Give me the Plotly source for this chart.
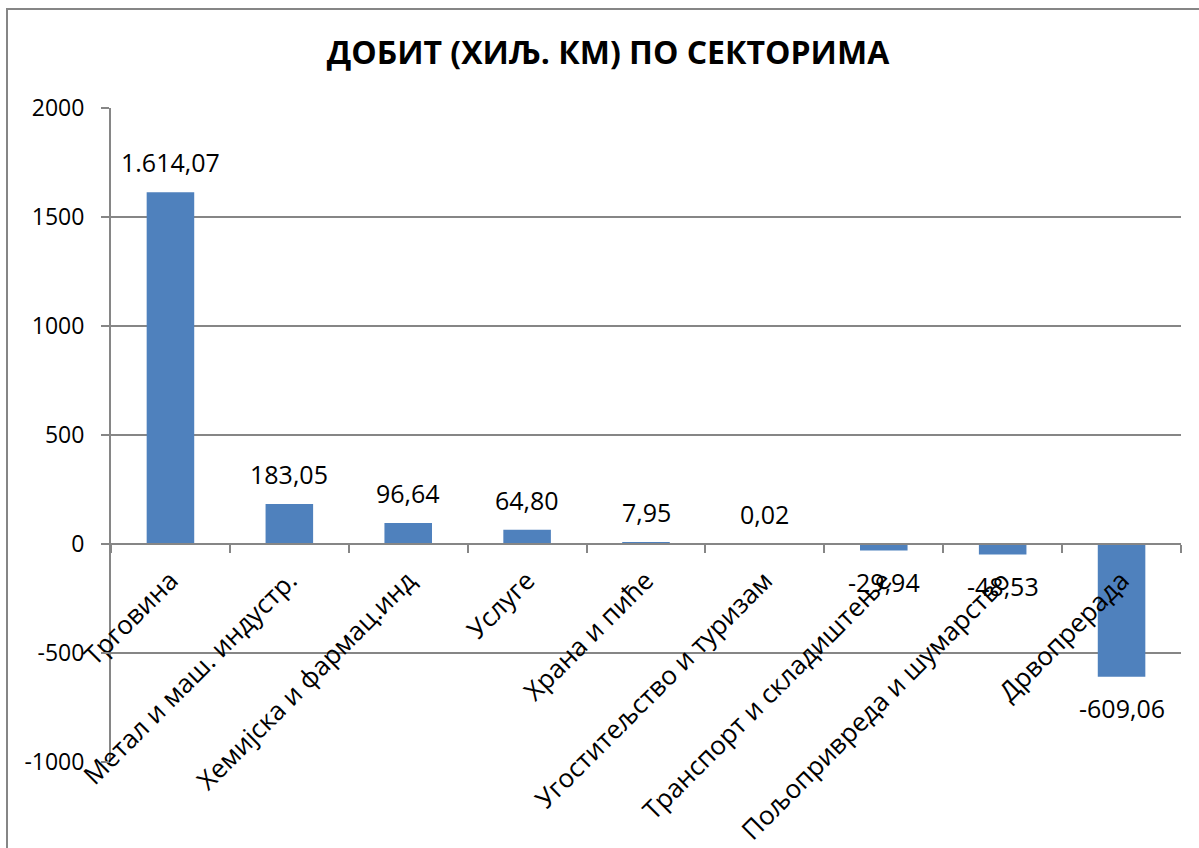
import plotly.graph_objects as go

categories = ["Трговина", "Метал и маш. индустр.", "Хемијска и фармац.инд", "Услуге",
              "Храна и пиће", "Угоститељство и туризам", "Транспорт и складиштење",
              "Пољопривреда и шумарство", "Дрвопрерада"]
values = [1614.07, 183.05, 96.64, 64.80, 7.95, 0.02, -29.94, -48.53, -609.06]
y_ticks = [-1000, -500, 0, 500, 1000, 1500, 2000]
title_text = "ДОБИТ (ХИЉ. КМ) ПО СЕКТОРИМА"

W, H = 1199, 848
L, R, T, B = 111, 18, 108, 86
pw, ph = W - L - R, H - T - B

def fmt(v):
    s = f"{v:,.2f}"
    return s.replace(",", "X").replace(".", ",").replace("X", ".")

FONT = "Open Sans"
GRAY = "#868686"

fig = go.Figure()
fig.add_trace(go.Bar(x=categories, y=values, marker=dict(color="#4F81BD", line=dict(width=0)),
                     hoverinfo="skip"))

annotations = []
for c, v in zip(categories, values):
    annotations.append(dict(x=c, y=v, xref="x", yref="y", text=fmt(v), showarrow=False,
                            yanchor="middle", xanchor="center", yshift=30 if v >= 0 else -31,
                            font=dict(family=FONT, size=25, color="black")))

def px_x(p):
    return (p - L) / pw

def px_y(p):
    return (H - B - p) / ph

shapes = [dict(type="rect", xref="paper", yref="paper",
               x0=px_x(7), x1=px_x(1260), y0=px_y(900), y1=px_y(9),
               line=dict(color=GRAY, width=2), fillcolor="rgba(0,0,0,0)", layer="below")]

fig.update_layout(
    width=W, height=H,
    margin=dict(l=L, r=R, t=T, b=B, autoexpand=False),
    paper_bgcolor="white", plot_bgcolor="white",
    showlegend=False,
    bargap=0.6,
    title=dict(text="<b>" + title_text + "</b>", xref="container", yref="container",
               x=608 / W, y=1 - 53 / H, xanchor="center", yanchor="middle",
               font=dict(family=FONT, size=32, color="black")),
    xaxis=dict(type="category", anchor="free", position=1 / 3, showline=True,
               linecolor=GRAY, linewidth=2, ticks="outside", tickson="boundaries",
               ticklen=8, tickcolor=GRAY, tickwidth=2, tickangle=-45, showgrid=False,
               ticklabelstandoff=10,
               tickfont=dict(family=FONT, size=26, color="black"), zeroline=False),
    yaxis=dict(range=[-1000, 2000], tickvals=y_ticks, ticktext=[str(t) for t in y_ticks],
               showgrid=True, gridcolor=GRAY, gridwidth=2, zeroline=False,
               showline=True, linecolor=GRAY, linewidth=2, ticks="outside", ticklen=8,
               tickcolor=GRAY, tickwidth=2, ticklabelstandoff=12,
               tickfont=dict(family=FONT, size=23, color="black")),
    annotations=annotations,
    shapes=shapes,
)

fig.write_html("out.html", config={"displayModeBar": False},
               post_script="document.body.style.margin='0';document.body.style.padding='0';")
